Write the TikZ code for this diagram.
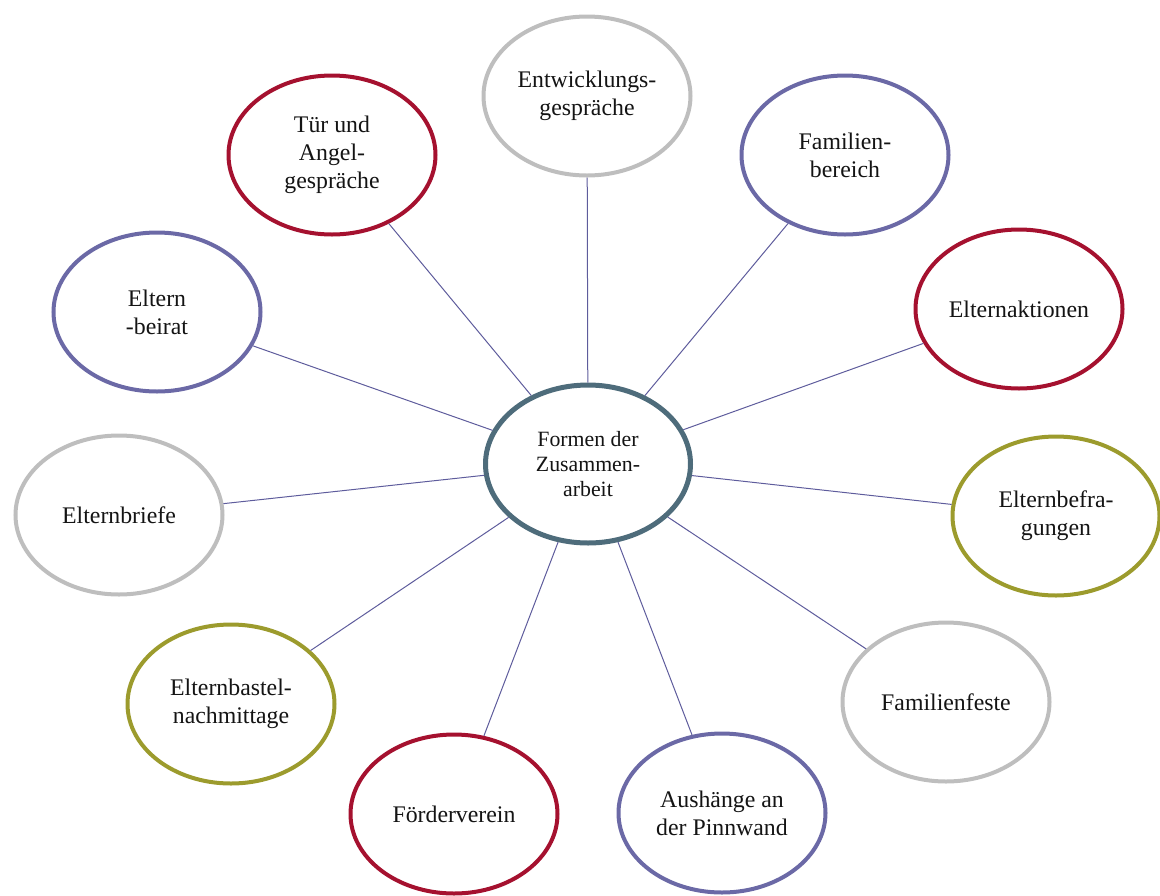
\documentclass[tikz,border=0pt]{standalone}
\usepackage{fontspec}
\setmainfont{Liberation Serif}
\usetikzlibrary{shapes.geometric}
\definecolor{cred}{HTML}{A5112F}
\definecolor{cpurple}{HTML}{6B69A6}
\definecolor{cgray}{HTML}{BEBEBE}
\definecolor{colive}{HTML}{9C9B2D}
\definecolor{ccenter}{HTML}{4E6C7B}
\definecolor{cline}{HTML}{5E5C9C}
\definecolor{ctext}{HTML}{141414}
\begin{document}
\begin{tikzpicture}[x=1pt,y=-1pt,
  bubble/.style={ellipse, draw, fill=white, line width=4pt, minimum width=207pt, minimum height=159pt, inner sep=0pt, align=center, text=ctext, font=\fontsize{23.8}{28}\selectfont},
  hub/.style={bubble, draw=ccenter, line width=5pt, minimum width=205pt, minimum height=158pt, font=\fontsize{21.8}{25}\selectfont},
  redb/.style={bubble, draw=cred},
  purb/.style={bubble, draw=cpurple},
  grayb/.style={bubble, draw=cgray},
  oliveb/.style={bubble, draw=colive},
  link/.style={draw=cline, line width=1pt}]
\useasboundingbox (0,0) rectangle (1160,895);
\node[hub] (c) at (588,464) {Formen der\\Zusammen-\\arbeit};
\node[grayb] (ent) at (587,96) {Entwicklungs-\\gespräche};
\node[purb] (fam) at (845,155) {Familien-\\bereich};
\node[redb] (tuer) at (332,155) {Tür und\\Angel-\\gespräche};
\node[redb] (akt) at (1019,309) {Elternaktionen};
\node[purb] (beirat) at (157,312) {Eltern\\-beirat};
\node[grayb] (briefe) at (119,515) {Elternbriefe};
\node[oliveb] (befr) at (1056,516) {Elternbefra-\\gungen};
\node[oliveb] (bastel) at (231,704) {Elternbastel-\\nachmittage};
\node[grayb] (feste) at (946,702) {Familienfeste};
\node[redb] (foerd) at (454,814) {Förderverein};
\node[purb] (aush) at (722,813) {Aushänge an\\der Pinnwand};
\foreach \n in {ent,fam,tuer,akt,beirat,briefe,befr,bastel,feste,foerd,aush}
  \draw[link] (c) -- (\n);
\end{tikzpicture}
\end{document}
